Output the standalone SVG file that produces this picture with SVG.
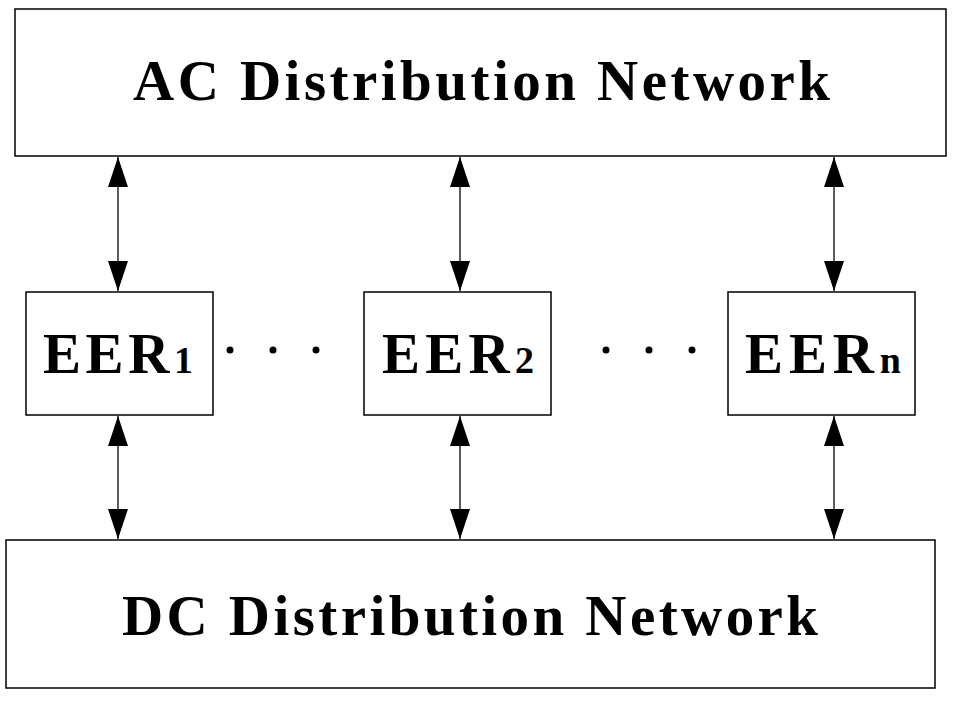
<svg xmlns="http://www.w3.org/2000/svg" width="954" height="701" viewBox="0 0 954 701">
<style>
.b{fill:#fff;stroke:#000;stroke-width:1.5}
.t{font-family:"Liberation Serif",serif;font-weight:bold;font-size:57px;fill:#000}
.s{font-size:38px}
.c{stroke:#000;stroke-width:1.3;fill:none;marker-start:url(#a);marker-end:url(#a)}
</style>
<defs><marker id="a" viewBox="0 0 20 30" refX="20" refY="10" markerWidth="20" markerHeight="30" markerUnits="userSpaceOnUse" orient="auto-start-reverse" overflow="visible"><path d="M0,0 L30,10 L0,20 Z" transform="translate(-10,0)" fill="#000"/></marker></defs>
<rect width="954" height="701" fill="#fff"/>
<g id="ac"><rect class="b" x="15" y="9" width="931" height="147"/><text class="t" x="133" y="100" textLength="697" lengthAdjust="spacing">AC Distribution Network</text></g>
<g id="eer1"><rect class="b" x="26" y="292" width="187" height="123"/><text class="t" x="43" y="373" textLength="150" lengthAdjust="spacing">EER<tspan class="s">1</tspan></text></g>
<g id="eer2"><rect class="b" x="364" y="292" width="187" height="123"/><text class="t" x="382" y="373" textLength="152" lengthAdjust="spacing">EER<tspan class="s">2</tspan></text></g>
<g id="eern"><rect class="b" x="728" y="292" width="187" height="123"/><text class="t" x="745" y="373" textLength="156" lengthAdjust="spacing">EER<tspan class="s">n</tspan></text></g>
<g id="dc"><rect class="b" x="6" y="540" width="929" height="148"/><text class="t" x="122" y="635" textLength="696" lengthAdjust="spacing">DC Distribution Network</text></g>
<g id="dots" fill="#000"><circle cx="230" cy="350" r="3.5"/><circle cx="273" cy="350" r="3.5"/><circle cx="316" cy="350" r="3.5"/><circle cx="606" cy="350" r="3.5"/><circle cx="649" cy="350" r="3.5"/><circle cx="692" cy="350" r="3.5"/></g>
<g id="connectors">
<line class="c" x1="118" y1="157" x2="118" y2="291"/>
<line class="c" x1="460" y1="157" x2="460" y2="291"/>
<line class="c" x1="834" y1="157" x2="834" y2="291"/>
<line class="c" x1="118" y1="416" x2="118" y2="539"/>
<line class="c" x1="460" y1="416" x2="460" y2="539"/>
<line class="c" x1="834" y1="416" x2="834" y2="539"/>
</g>
</svg>
